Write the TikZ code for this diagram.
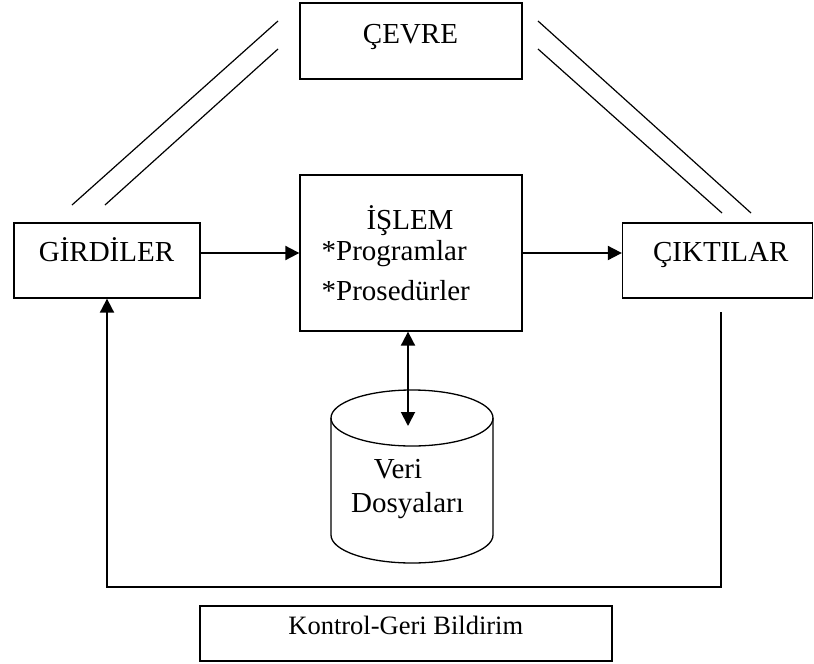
\documentclass[tikz,border=0pt]{standalone}
\usepackage{fontspec}
\setmainfont{Liberation Serif}
\usetikzlibrary{arrows.meta}
\begin{document}
\begin{tikzpicture}[x=1pt,y=-1pt,
  box/.style={draw,line width=1.3pt,rectangle,inner sep=0pt},
  txt/.style={inner sep=0pt,anchor=base,font=\fontsize{29}{34}\selectfont},
  txtl/.style={txt,anchor=base west},
  small/.style={inner sep=0pt,anchor=base,font=\fontsize{26.5}{31}\selectfont},
  arr/.style={line width=1.9pt,-{Triangle[length=14pt,width=14pt]}},
  dblarr/.style={line width=1.9pt,{Triangle[length=14pt,width=14pt]}-{Triangle[length=14pt,width=14pt]}},
  thin/.style={line width=1.2pt},
  cyl/.style={line width=1.3pt}]
\useasboundingbox (0,0) rectangle (814,664);

% boxes
\node[box,minimum width=222pt,minimum height=76pt] (cevre) at (411,41) {};
\node[box,minimum width=222pt,minimum height=156pt] (islem) at (411,253) {};
\node[box,minimum width=186pt,minimum height=75pt] (girdi) at (107,260.5) {};
\node[box,minimum width=190pt,minimum height=75pt] (cikti) at (717.5,260.5) {};
\node[box,minimum width=412pt,minimum height=55pt] (kontrol) at (406,633.5) {};

% labels
\node[txt] (tcevre) at (410.5,43) {ÇEVRE};
\node[txt] (tgirdi) at (106.5,261) {GİRDİLER};
\node[txt] (tcikti) at (720.8,261) {ÇIKTILAR};
\node[txt] (tislem) at (410,229) {İŞLEM};
\node[txtl] (tprog) at (321.5,260) {*Programlar};
\node[txtl] (tpros) at (321.5,300) {*Prosedürler};
\node[small] (tkontrol) at (405.8,634) {Kontrol-Geri Bildirim};

% data store cylinder (radii are in canvas units, so the front arc runs 180 -> 360)
\coordinate (cyltop) at (412,418);
\draw[cyl] (cyltop) ellipse [x radius=81pt,y radius=28pt];
\draw[cyl] (331,418) -- (331,535) arc[start angle=180,end angle=360,x radius=81pt,y radius=28pt] -- (493,418);
\node[txt] (tveri) at (398,478) {Veri};
\node[txt] (tdosya) at (407.5,512) {Dosyaları};

% environment links
\coordinate (la1) at (72,205);  \coordinate (lb1) at (278,21);
\coordinate (la2) at (105,205); \coordinate (lb2) at (278,49);
\coordinate (ra1) at (538,21);  \coordinate (rb1) at (751,213);
\coordinate (ra2) at (538,49);  \coordinate (rb2) at (722,213);
\draw[thin] (la1) -- (lb1);
\draw[thin] (la2) -- (lb2);
\draw[thin] (ra1) -- (rb1);
\draw[thin] (ra2) -- (rb2);

% flow arrows
\draw[arr] (girdi.east |- islem.west) -- (islem.west);
\draw[arr] (islem.east) -- (cikti.west |- islem.east);
\coordinate (dbin) at (408,426);
\draw[dblarr] (dbin) -- (dbin |- islem.south);

% feedback loop
\coordinate (fbstart) at (721,312);
\coordinate (fbcorner) at (721,587);
\draw[arr] (fbstart) -- (fbcorner) -| (girdi.south);
\end{tikzpicture}
\end{document}
